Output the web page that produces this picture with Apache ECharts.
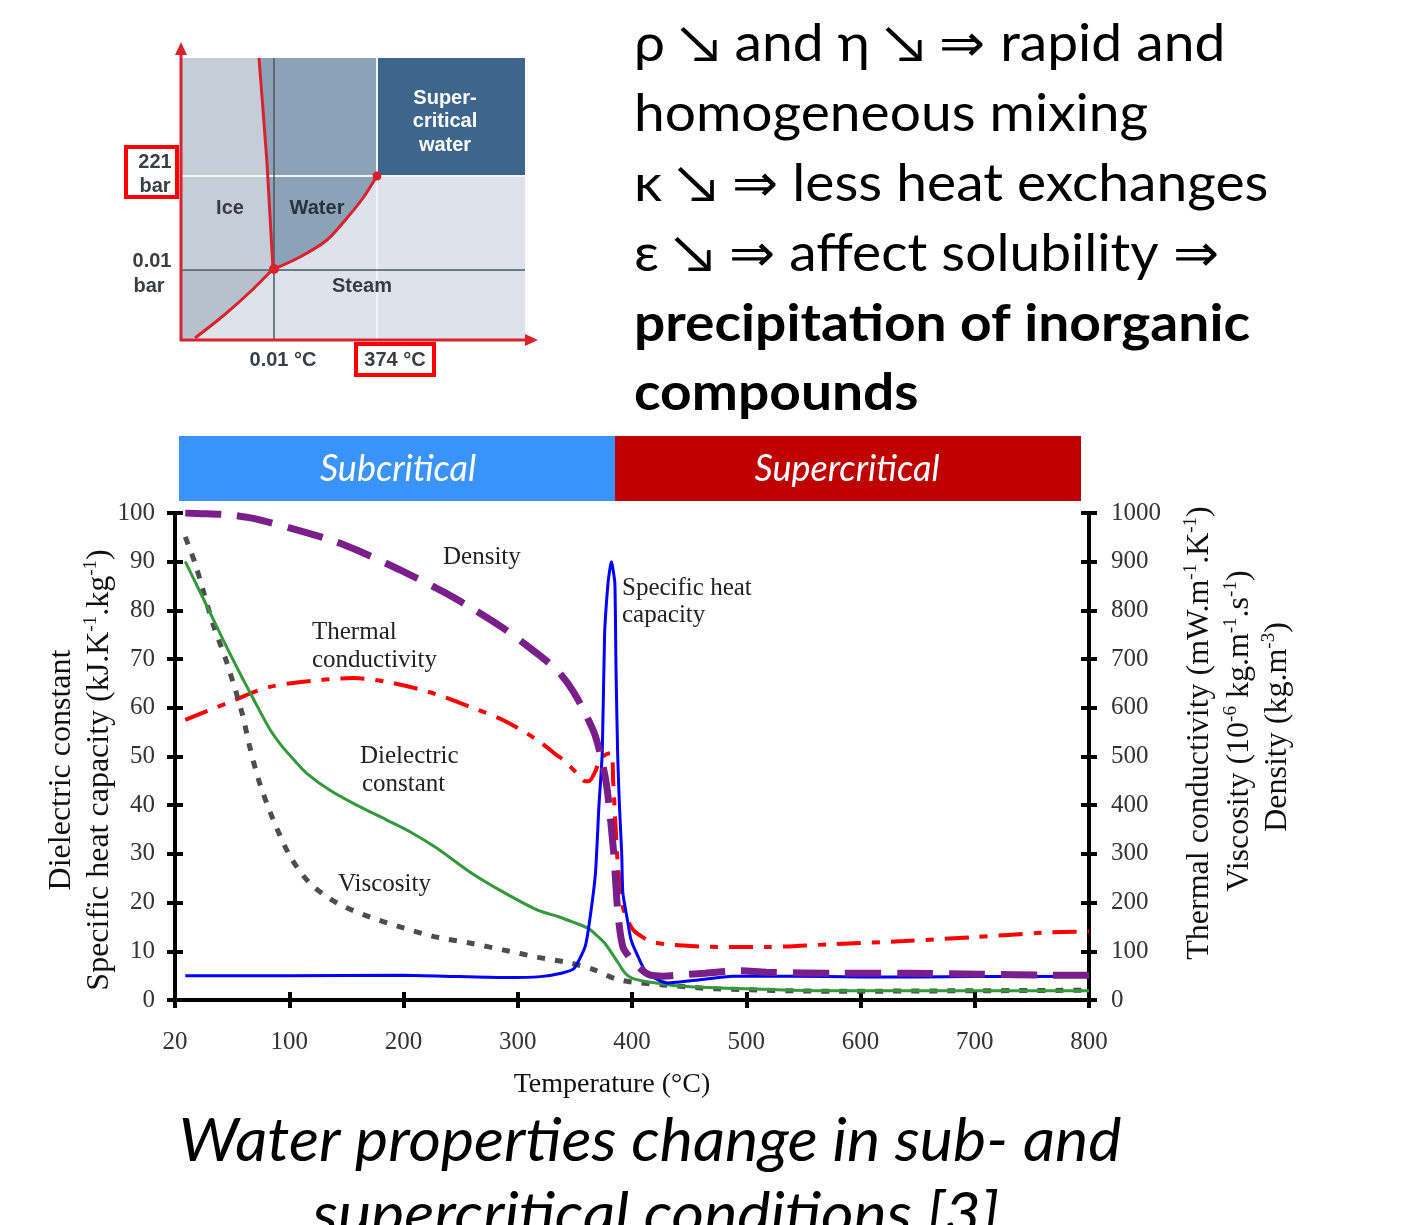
<!DOCTYPE html>
<html><head><meta charset="utf-8">
<script src="https://cdn.jsdelivr.net/npm/echarts@6/dist/echarts.min.js"></script>
<style>html,body{margin:0;padding:0;background:#fff}#c{width:1415px;height:1225px}</style>
</head><body><div id="c"></div>
<script>
// x positions are axis positions: the first tick (0) is labelled "20"
const xTickLabels = ['20','100','200','300','400','500','600','700','800'];

// Dielectric constant (left axis)
const dielT = [9, 24, 42, 57, 66, 75, 83, 92, 103, 115, 136, 159, 185, 206, 229, 258, 287, 317, 337, 346, 361, 368, 376, 388, 394, 400, 412, 421, 436, 473, 578, 700, 800];
const dielV = [90, 82.8, 74, 67, 63, 59, 55.6, 52.6, 49.6, 46.6, 43, 40, 37, 34.5, 31.2, 26.3, 22.2, 18.5, 17, 16.2, 14.8, 13.5, 11.7, 7.6, 5.5, 4.5, 3.8, 3.5, 3.0, 2.5, 1.9, 1.9, 1.9];

// Specific heat capacity (left axis)
const cpT = [9, 100, 200, 250, 290, 320, 338, 349, 359, 363, 368, 371, 374, 376, 379, 381, 382, 383, 385, 386, 387.5, 389, 391, 392, 396, 399, 404, 413, 431, 458, 488, 540, 600, 700, 800];
const cpV = [5.0, 5.0, 5.1, 4.8, 4.6, 4.8, 5.5, 6.4, 11, 16.4, 26, 39.6, 51, 75, 85.6, 89, 90, 89, 85.6, 68, 50, 40, 30, 22, 16.4, 12.5, 9.6, 5.5, 3.5, 4.1, 4.9, 4.9, 4.7, 4.8, 4.9];

// Density (right axis)
const densT = [9, 19, 48, 74, 136, 159, 197, 235, 258, 287, 305, 334, 349, 366, 372, 378, 384, 386, 388, 392, 397, 402, 416, 427, 445, 464, 494, 518, 581, 642, 705, 765, 800];
const densV = [1000, 999, 996, 986, 945, 924, 883, 838, 807, 764, 733, 678, 632, 554, 507, 437, 302, 232, 170, 109, 90, 76, 51, 49, 52, 55, 60, 57, 55, 55, 53, 51, 51];

// Thermal conductivity (right axis)
const condT = [9, 48, 83, 127, 156, 186, 223, 258, 287, 317, 334, 340, 352, 358, 362, 368, 372, 378, 382, 383.5, 386, 388, 392, 396, 401, 410, 418, 436, 475, 518, 578, 638, 699, 759, 800];
const condV = [575, 612, 643, 657, 661, 653, 632, 602, 575, 534, 503, 493, 465, 450, 449, 470, 495, 505, 507, 450, 340, 267, 191, 165, 144, 128, 119, 113, 109, 109, 115, 121, 129, 138, 141];

// Viscosity (right axis)
const viscT = [9, 17.5, 24.5, 33, 45.5, 58.7, 65.7, 74, 86, 101, 118, 142, 171, 200, 229, 258, 287, 317, 346, 367, 386, 400, 427, 473, 578, 700, 800];
const viscV = [951, 897, 842, 774, 692, 589, 517, 446, 370, 294, 240, 199, 170, 148, 129, 117, 103, 88, 76, 62, 43, 37, 31, 23, 18, 19, 20];

const pairs = (xs, ys) => xs.map((x, i) => [x, ys[i]]);

const serif = 'Liberation Serif';
const chart = echarts.init(document.getElementById('c'), null, {renderer: 'canvas'});

function T(x, y, text, font, fill, align, extra) {
  return Object.assign({
    type: 'text', x: x, y: y, z: 10,
    style: {text: text, font: font, fill: fill || '#222',
      align: align || 'left', verticalAlign: 'middle',
      textAlign: align || 'left', textVerticalAlign: 'middle'}
  }, extra || {});
}
function richTitle(x, y, content, size) {
  return {
    type: 'text', x: x, y: y, rotation: Math.PI / 2, z: 10,
    style: {
      text: content, align: 'center', verticalAlign: 'middle',
      textAlign: 'center', textVerticalAlign: 'middle',
      fill: '#111',
      rich: {
        n: {fontFamily: serif, fontSize: size, lineHeight: size + 4, fill: '#111'},
        s: {fontFamily: serif, fontSize: Math.round(size * 0.6), lineHeight: Math.round(size * 0.6), verticalAlign: 'top', fill: '#111'}
      }
    }
  };
}

const red = '#d9222d';
const pdFont = 'bold 20px "Liberation Sans"';
const bodyFont = '52px Lato';
const bodyBold = 'bold 52px Lato';
const sx = {scaleX: 1.06};
const curveFont = '25px "Liberation Serif"';
const graphic = [
  // ---- phase diagram ----
  {type: 'rect', shape: {x: 181, y: 58, width: 344, height: 282}, style: {fill: '#dde3ea'}},
  {type: 'polygon', shape: {points: [[181,58],[259,58],[263,110],[267,163],[270,216],[273,269],[181,269]]}, style: {fill: '#c5cdd7'}},
  {type: 'polygon', shape: {points: [[181,270],[273,270],[250,292],[223,316],[195,338],[181,340]]}, style: {fill: '#b5c1cd'}},
  {type: 'polygon', shape: {points: [[259,58],[377,58],[377,176],[370,187],[363,197],[347,217],[327,240],[300,257],[274,269],[270,216],[267,163],[263,110]]}, style: {fill: '#8ba2b7'}},
  {type: 'rect', shape: {x: 377, y: 58, width: 148, height: 118}, style: {fill: '#3e658b'}},
  {type: 'line', shape: {x1: 377, y1: 58, x2: 377, y2: 340}, style: {stroke: '#f3f5f8', lineWidth: 2}},
  {type: 'line', shape: {x1: 181, y1: 176, x2: 525, y2: 176}, style: {stroke: '#f3f5f8', lineWidth: 2}},
  {type: 'line', shape: {x1: 274, y1: 58, x2: 274, y2: 340}, style: {stroke: '#4b5763', lineWidth: 1.5}},
  {type: 'line', shape: {x1: 181, y1: 270, x2: 525, y2: 270}, style: {stroke: '#4b5763', lineWidth: 1.5}},
  {type: 'polyline', shape: {points: [[259,58],[263,110],[267,163],[270,216],[273,269]]}, style: {stroke: red, lineWidth: 3, fill: null}},
  {type: 'polyline', shape: {points: [[274,269],[300,257],[327,240],[347,218],[363,198],[377,176]], smooth: 0.3}, style: {stroke: red, lineWidth: 3, fill: null}},
  {type: 'polyline', shape: {points: [[273,269],[250,292],[223,316],[195,338]], smooth: 0.3}, style: {stroke: red, lineWidth: 3, fill: null}},
  {type: 'circle', shape: {cx: 377, cy: 176, r: 4.5}, style: {fill: red}},
  {type: 'circle', shape: {cx: 274, cy: 269, r: 5}, style: {fill: red}},
  {type: 'line', shape: {x1: 181, y1: 341, x2: 181, y2: 52}, style: {stroke: red, lineWidth: 3}},
  {type: 'polygon', shape: {points: [[175,55],[181,42],[187,55]]}, style: {fill: red}},
  {type: 'line', shape: {x1: 180, y1: 340, x2: 528, y2: 340}, style: {stroke: red, lineWidth: 3}},
  {type: 'polygon', shape: {points: [[525,334],[538,340],[525,346]]}, style: {fill: red}},
  {type: 'rect', shape: {x: 126, y: 147, width: 51, height: 50}, style: {fill: '#fff', stroke: '#ff0000', lineWidth: 4}},
  {type: 'rect', shape: {x: 356, y: 344, width: 78, height: 31}, style: {fill: '#fff', stroke: '#ff0000', lineWidth: 4}},
  T(445, 98, 'Super-', pdFont, '#fff', 'center'),
  T(445, 121, 'critical', pdFont, '#fff', 'center'),
  T(445, 145, 'water', pdFont, '#fff', 'center'),
  T(230, 208, 'Ice', pdFont, '#353c44', 'center'),
  T(317, 208, 'Water', pdFont, '#283340', 'center'),
  T(362, 286, 'Steam', pdFont, '#353c44', 'center'),
  T(155, 162, '221', pdFont, '#3a3f45', 'center'),
  T(155, 186, 'bar', pdFont, '#3a3f45', 'center'),
  T(152, 261, '0.01', pdFont, '#3a3f45', 'center'),
  T(149, 286, 'bar', pdFont, '#3a3f45', 'center'),
  T(283, 360, '0.01 °C', pdFont, '#3a3f45', 'center'),
  T(395, 360, '374 °C', pdFont, '#3a3f45', 'center'),
  // ---- right text ----
  T(634, 44, 'ρ ↘ and η ↘ ⇒ rapid and', bodyFont, '#000', 'left', sx),
  T(634, 114, 'homogeneous mixing', bodyFont, '#000', 'left', sx),
  T(634, 184, 'κ ↘ ⇒ less heat exchanges', bodyFont, '#000', 'left', sx),
  T(634, 254, 'ε ↘ ⇒ affect solubility ⇒', bodyFont, '#000', 'left', sx),
  T(634, 324, 'precipitation of inorganic', bodyBold, '#000', 'left', sx),
  T(634, 393, 'compounds', bodyBold, '#000', 'left', sx),
  // ---- banner ----
  {type: 'rect', shape: {x: 179, y: 436, width: 436, height: 65}, style: {fill: '#3a93f8'}},
  {type: 'rect', shape: {x: 615, y: 436, width: 466, height: 65}, style: {fill: '#c00000'}},
  T(398, 469, 'Subcritical', 'italic 36px Lato', '#fff', 'center'),
  T(847, 469, 'Supercritical', 'italic 36px Lato', '#fff', 'center'),
  // ---- curve labels ----
  T(443, 557, 'Density', curveFont, '#222'),
  T(622, 588, 'Specific heat', curveFont, '#222'),
  T(622, 615, 'capacity', curveFont, '#222'),
  T(312, 632, 'Thermal', curveFont, '#222'),
  T(312, 660, 'conductivity', curveFont, '#222'),
  T(360, 756, 'Dielectric', curveFont, '#222'),
  T(362, 784, 'constant', curveFont, '#222'),
  T(338, 884, 'Viscosity', curveFont, '#222'),
  // ---- axis titles ----
  T(612, 1085, 'Temperature (°C)', '28px "Liberation Serif"', '#111', 'center'),
  richTitle(62, 770, '{n|Dielectric constant}', 32),
  richTitle(100, 770, '{n|Specific heat capacity (kJ.K}{s|-1}{n|.kg}{s|-1}{n|)}', 32),
  richTitle(1200, 733, '{n|Thermal conductivity (mW.m}{s|-1}{n|.K}{s|-1}{n|)}', 32),
  richTitle(1240, 731, '{n|Viscosity (10}{s|-6}{n| kg.m}{s|-1}{n|.s}{s|-1}{n|)}', 32),
  richTitle(1278, 727, '{n|Density (kg.m}{s|-3}{n|)}', 32),
  // ---- caption ----
  {type: 'text', x: 650, y: 1142, z: 10, scaleX: 1.045,
    style: {text: 'Water properties change in sub- and', font: 'italic 60px Lato', fill: '#000',
      align: 'center', verticalAlign: 'middle', textAlign: 'center', textVerticalAlign: 'middle'}},
  {type: 'text', x: 656, y: 1216, z: 10, scaleX: 1.045,
    style: {text: 'supercritical conditions [3]', font: 'italic 60px Lato', fill: '#000',
      align: 'center', verticalAlign: 'middle', textAlign: 'center', textVerticalAlign: 'middle'}}
];

const lbl = {fontFamily: serif, fontSize: 25, color: '#333'};
const tickStyle = {color: '#000', width: 4};
const option = {
  animation: false,
  backgroundColor: '#fff',
  grid: {left: 175, right: 326, top: 513, bottom: 225, containLabel: false},
  xAxis: [
    {type: 'value', min: 0, max: 800, interval: 100, position: 'bottom',
      axisLine: {show: true, onZero: false, lineStyle: {color: '#000', width: 4}},
      axisTick: {show: true, length: 8, lineStyle: tickStyle},
      axisLabel: Object.assign({margin: 30, formatter: v => xTickLabels[Math.round(v / 100)]}, lbl),
      splitLine: {show: false}},
    {type: 'value', min: 0, max: 800, interval: 100, position: 'bottom',
      axisLine: {show: false, onZero: false},
      axisTick: {show: true, inside: true, length: 8, lineStyle: tickStyle},
      axisLabel: {show: false}, splitLine: {show: false}}
  ],
  yAxis: [
    {type: 'value', min: 0, max: 100, interval: 10, position: 'left',
      axisLine: {show: true, onZero: false, lineStyle: {color: '#000', width: 4}},
      axisTick: {show: true, length: 8, lineStyle: tickStyle},
      axisLabel: Object.assign({margin: 20}, lbl), splitLine: {show: false}},
    {type: 'value', min: 0, max: 100, interval: 10, position: 'left',
      axisLine: {show: false, onZero: false},
      axisTick: {show: true, inside: true, length: 8, lineStyle: tickStyle},
      axisLabel: {show: false}, splitLine: {show: false}},
    {type: 'value', min: 0, max: 1000, interval: 100, position: 'right',
      axisLine: {show: true, onZero: false, lineStyle: {color: '#000', width: 4}},
      axisTick: {show: true, length: 8, lineStyle: tickStyle},
      axisLabel: Object.assign({margin: 22, formatter: v => String(v)}, lbl), splitLine: {show: false}},
    {type: 'value', min: 0, max: 1000, interval: 100, position: 'right',
      axisLine: {show: false, onZero: false},
      axisTick: {show: true, inside: true, length: 8, lineStyle: tickStyle},
      axisLabel: {show: false}, splitLine: {show: false}}
  ],
  series: [
    {name: 'Thermal conductivity', type: 'line', yAxisIndex: 2, data: pairs(condT, condV), smooth: 0.3, symbol: 'none',
      lineStyle: {color: '#ff0000', width: 4, type: [24, 11, 8, 11]}},
    {name: 'Viscosity', type: 'line', yAxisIndex: 2, data: pairs(viscT, viscV), smooth: 0.3, symbol: 'none',
      lineStyle: {color: '#4d4d4d', width: 5, type: [8, 10]}},
    {name: 'Dielectric constant', type: 'line', yAxisIndex: 0, data: pairs(dielT, dielV), smooth: 0.3, symbol: 'none',
      lineStyle: {color: '#33993a', width: 3}},
    {name: 'Specific heat capacity', type: 'line', yAxisIndex: 0, data: pairs(cpT, cpV), smooth: 0.2, symbol: 'none',
      lineStyle: {color: '#0000ff', width: 3}},
    {name: 'Density', type: 'line', yAxisIndex: 2, data: pairs(densT, densV), smooth: 0.3, symbol: 'none',
      lineStyle: {color: '#7a1e8c', width: 7, type: [36, 16]}}
  ],
  graphic: graphic
};
chart.setOption(option);
</script></body></html>
